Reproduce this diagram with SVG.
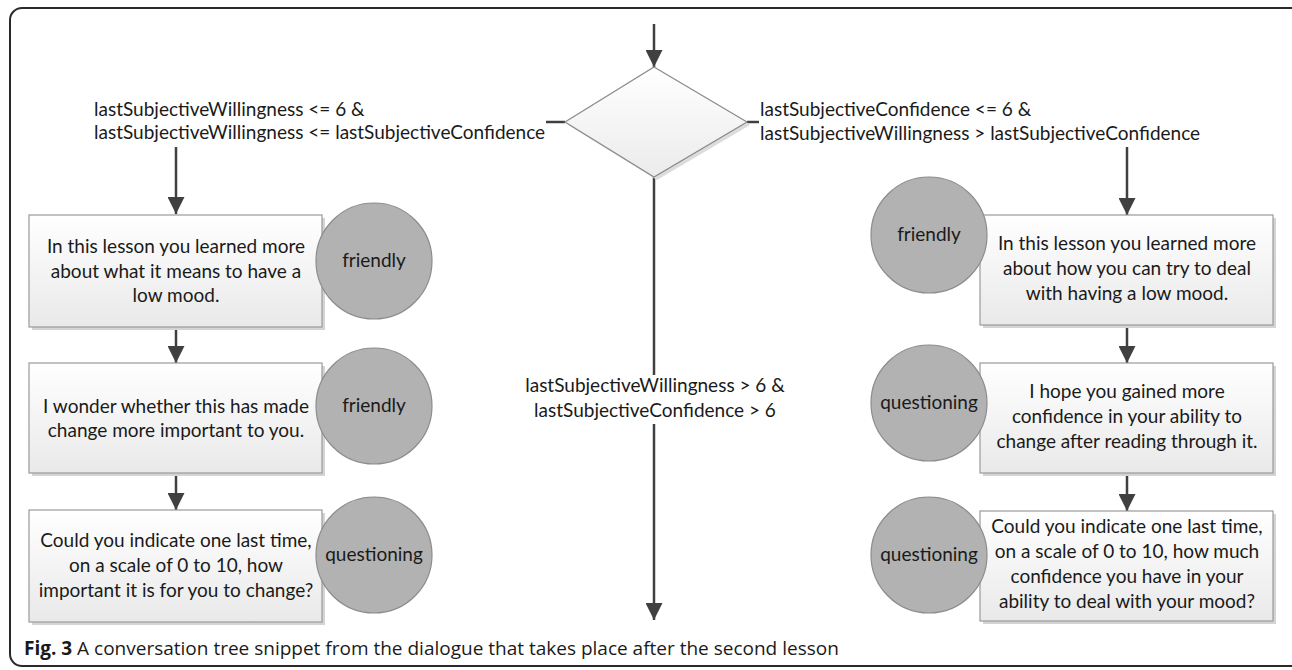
<svg xmlns="http://www.w3.org/2000/svg" width="1292" height="670" viewBox="0 0 1292 670">
<style>
  .lbl{font-family:Lato,"Liberation Sans",sans-serif;font-size:19px;fill:#1a1a1a}
  .bt{font-family:Lato,"Liberation Sans",sans-serif;font-size:19px;fill:#1a1a1a;text-anchor:middle}
  .ct{font-family:Lato,"Liberation Sans",sans-serif;font-size:19px;fill:#1a1a1a;text-anchor:middle}
  .box{fill:url(#boxg);stroke:#9a9a9a;stroke-width:1.2}
  .shadow{fill:#d4d4d4}
  .circ{fill:#b2b2b2;stroke:#8c8c8c;stroke-width:1.2}
  .con{stroke:#404040;stroke-width:2.5;fill:none}
  .cap{font-family:"Open Sans","Liberation Sans",sans-serif;font-size:19px;fill:#1a1a1a}
</style>
<defs>
  <linearGradient id="boxg" x1="0" y1="0" x2="0" y2="1">
    <stop offset="0" stop-color="#ffffff"/>
    <stop offset="1" stop-color="#e9e9e9"/>
  </linearGradient>
  <linearGradient id="diag" x1="0" y1="0" x2="0" y2="1">
    <stop offset="0" stop-color="#ffffff"/>
    <stop offset="1" stop-color="#ebebeb"/>
  </linearGradient>
  <marker id="arr" viewBox="0 0 17 17" refX="17" refY="8.5" markerWidth="17" markerHeight="17" markerUnits="userSpaceOnUse" orient="auto">
    <path d="M0,0 L17,8.5 L0,17 z" fill="#404040"/>
  </marker>
</defs>
<rect width="1292" height="670" fill="#ffffff"/>
<rect id="frame" x="10" y="8" width="1294" height="658" rx="12" ry="12" fill="none" stroke="#2a2a2a" stroke-width="2"/>

<g id="connectors">
  <line class="con" x1="654" y1="24" x2="654" y2="67" marker-end="url(#arr)"/>
  <line class="con" x1="546" y1="122" x2="565" y2="122"/>
  <line class="con" x1="747" y1="122" x2="759" y2="122"/>
  <line class="con" x1="176" y1="147" x2="176" y2="214" marker-end="url(#arr)"/>
  <line class="con" x1="1127" y1="147" x2="1127" y2="215" marker-end="url(#arr)"/>
  <line class="con" x1="654" y1="177" x2="654" y2="375"/>
  <line class="con" x1="654" y1="424" x2="654" y2="620" marker-end="url(#arr)"/>
  <line class="con" x1="176" y1="327" x2="176" y2="363" marker-end="url(#arr)"/>
  <line class="con" x1="176" y1="473" x2="176" y2="510" marker-end="url(#arr)"/>
  <line class="con" x1="1127" y1="325" x2="1127" y2="363" marker-end="url(#arr)"/>
  <line class="con" x1="1127" y1="473" x2="1127" y2="511" marker-end="url(#arr)"/>
</g>

<g id="decision">
  <path d="M657,70 L750,125 L657,180 L568,125 z" fill="#dcdcdc"/>
  <path d="M654,67 L747,122 L654,177 L565,122 z" fill="url(#diag)" stroke="#8a8a8a" stroke-width="1.2"/>
</g>

<g id="label-left">
  <text class="lbl" x="94" y="116">lastSubjectiveWillingness &lt;= 6 &amp;</text>
  <text class="lbl" x="94" y="139">lastSubjectiveWillingness &lt;= lastSubjectiveConfidence</text>
</g>
<g id="label-right">
  <text class="lbl" x="760" y="116">lastSubjectiveConfidence &lt;= 6 &amp;</text>
  <text class="lbl" x="760" y="140">lastSubjectiveWillingness &gt; lastSubjectiveConfidence</text>
</g>
<g id="label-middle">
  <text class="bt" x="655" y="392">lastSubjectiveWillingness &gt; 6 &amp;</text>
  <text class="bt" x="655" y="417">lastSubjectiveConfidence &gt; 6</text>
</g>

<g id="left-box1">
  <rect class="shadow" x="32" y="218" width="293" height="112"/>
  <rect class="box" x="29" y="215" width="293" height="112"/>
  <text class="bt" x="176" y="253">In this lesson you learned more</text>
  <text class="bt" x="176" y="278">about what it means to have a</text>
  <text class="bt" x="176" y="302">low mood.</text>
</g>
<g id="left-circle1">
  <circle class="circ" cx="374" cy="261" r="58"/>
  <text class="ct" x="374" y="267">friendly</text>
</g>
<g id="left-box2">
  <rect class="shadow" x="32" y="366" width="293" height="110"/>
  <rect class="box" x="29" y="363" width="293" height="110"/>
  <text class="bt" x="176" y="413">I wonder whether this has made</text>
  <text class="bt" x="176" y="437">change more important to you.</text>
</g>
<g id="left-circle2">
  <circle class="circ" cx="374" cy="406" r="58"/>
  <text class="ct" x="374" y="412">friendly</text>
</g>
<g id="left-box3">
  <rect class="shadow" x="32" y="513" width="293" height="112"/>
  <rect class="box" x="29" y="510" width="293" height="112"/>
  <text class="bt" x="176" y="547">Could you indicate one last time,</text>
  <text class="bt" x="176" y="572">on a scale of 0 to 10, how</text>
  <text class="bt" x="176" y="597">important it is for you to change?</text>
</g>
<g id="left-circle3">
  <circle class="circ" cx="374" cy="555" r="58"/>
  <text class="ct" x="374" y="561">questioning</text>
</g>

<g id="right-box1">
  <rect class="shadow" x="983" y="218" width="293" height="110"/>
  <rect class="box" x="980" y="215" width="293" height="110"/>
  <text class="bt" x="1127" y="250">In this lesson you learned more</text>
  <text class="bt" x="1127" y="275">about how you can try to deal</text>
  <text class="bt" x="1127" y="300">with having a low mood.</text>
</g>
<g id="right-circle1">
  <circle class="circ" cx="929" cy="235" r="58"/>
  <text class="ct" x="929" y="241">friendly</text>
</g>
<g id="right-box2">
  <rect class="shadow" x="983" y="366" width="293" height="110"/>
  <rect class="box" x="980" y="363" width="293" height="110"/>
  <text class="bt" x="1127" y="398">I hope you gained more</text>
  <text class="bt" x="1127" y="423">confidence in your ability to</text>
  <text class="bt" x="1127" y="448">change after reading through it.</text>
</g>
<g id="right-circle2">
  <circle class="circ" cx="929" cy="403" r="58"/>
  <text class="ct" x="929" y="409">questioning</text>
</g>
<g id="right-box3">
  <rect class="shadow" x="983" y="514" width="293" height="110"/>
  <rect class="box" x="980" y="511" width="293" height="110"/>
  <text class="bt" x="1127" y="533">Could you indicate one last time,</text>
  <text class="bt" x="1127" y="558">on a scale of 0 to 10, how much</text>
  <text class="bt" x="1127" y="583">confidence you have in your</text>
  <text class="bt" x="1127" y="608">ability to deal with your mood?</text>
</g>
<g id="right-circle3">
  <circle class="circ" cx="929" cy="555" r="58"/>
  <text class="ct" x="929" y="561">questioning</text>
</g>

<g id="caption">
  <text class="cap" x="24" y="655"><tspan font-weight="bold">Fig. 3</tspan> A conversation tree snippet from the dialogue that takes place after the second lesson</text>
</g>
</svg>
